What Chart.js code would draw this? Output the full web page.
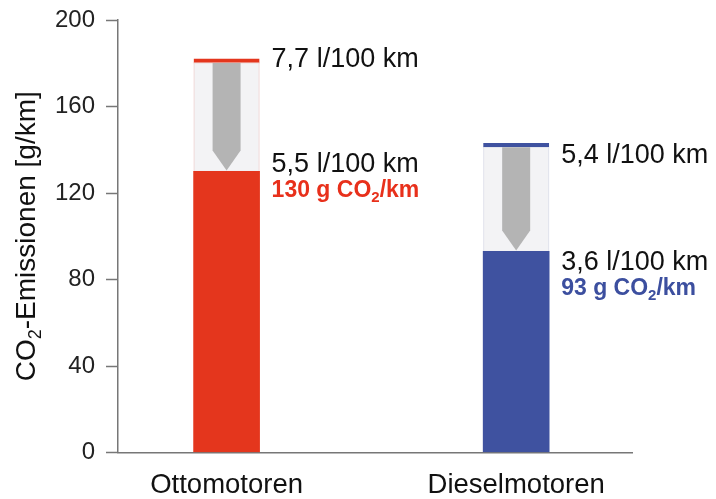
<!DOCTYPE html>
<html>
<head>
<meta charset="utf-8">
<script src="https://cdn.jsdelivr.net/npm/chart.js@4"></script>
<style>
  html, body { margin: 0; padding: 0; background: #ffffff; }
  #wrap { width: 716px; height: 499px; position: relative; }
</style>
</head>
<body>
<div id="wrap"><canvas id="c"></canvas></div>
<script>
// Engine types and their CO2 emissions (g/km)
const categories = ['Ottomotoren', 'Dieselmotoren'];
const co2Now = [130, 93];          // after consumption reduction
const co2Before = [182, 143];      // at the earlier consumption level
const consumptionBefore = ['7,7 l/100 km', '5,4 l/100 km'];
const consumptionNow = ['5,5 l/100 km', '3,6 l/100 km'];
const yTicks = [0, 40, 80, 120, 160, 200];

const barColors = ['#e4361d', '#3f52a0'];
const valueColors = ['#e8301b', '#3c4f9f'];
const FONT = 'Liberation Sans, Arial, Helvetica, sans-serif';

// baseline offsets (px) of the annotation rows below their reference level
const labelOffsets = {
  before: [8, 20],
  now: [1, 19],
  value: [26, 44]
};

function drawRich(ctx, parts, x, y, size, weight, color, align) {
  const sizes = parts.map(p => p.sub ? Math.round(size * 0.66) : size);
  const widths = parts.map((p, i) => {
    ctx.font = weight + ' ' + sizes[i] + 'px ' + FONT;
    return ctx.measureText(p.t).width;
  });
  const total = widths.reduce((a, b) => a + b, 0);
  let cx = align === 'center' ? x - total / 2 : x;
  ctx.fillStyle = color;
  ctx.textBaseline = 'alphabetic';
  ctx.textAlign = 'left';
  parts.forEach((p, i) => {
    ctx.font = weight + ' ' + sizes[i] + 'px ' + FONT;
    ctx.fillText(p.t, cx, y + (p.sub ? size * 0.22 : 0));
    cx += widths[i];
  });
}

const annotations = {
  id: 'annotations',
  afterDatasetsDraw(chart) {
    const ctx = chart.ctx;
    const xs = chart.scales.x, ys = chart.scales.y;
    const half = 33;
    categories.forEach((c, i) => {
      const cx = xs.getPixelForValue(i + 1);
      const yTop = ys.getPixelForValue(co2Before[i]);
      const yBar = ys.getPixelForValue(co2Now[i]);
      // faint outline of the saved range
      ctx.save();
      ctx.strokeStyle = i === 0 ? 'rgba(228,54,29,0.13)' : 'rgba(63,82,160,0.10)';
      ctx.lineWidth = 1;
      ctx.strokeRect(cx - half + 0.5, yTop + 4, 2 * half - 1, yBar - yTop - 4);
      // downward arrow
      const hw = 14, tip = 20;
      ctx.fillStyle = '#b4b4b4';
      ctx.beginPath();
      ctx.moveTo(cx - hw, yTop + 4);
      ctx.lineTo(cx + hw, yTop + 4);
      ctx.lineTo(cx + hw, yBar - 1 - tip);
      ctx.lineTo(cx, yBar - 1);
      ctx.lineTo(cx - hw, yBar - 1 - tip);
      ctx.closePath();
      ctx.fill();
      ctx.restore();
    });
  },
  afterDraw(chart) {
    const ctx = chart.ctx;
    const xs = chart.scales.x, ys = chart.scales.y;
    const area = chart.chartArea;
    ctx.save();
    categories.forEach((c, i) => {
      const tx = xs.getPixelForValue(i + 1) + 33 + 12;
      const yTop = ys.getPixelForValue(co2Before[i]);
      const yBar = ys.getPixelForValue(co2Now[i]);
      drawRich(ctx, [{ t: consumptionBefore[i] }], tx, yTop + labelOffsets.before[i], 27, 'normal', '#111111', 'left');
      drawRich(ctx, [{ t: consumptionNow[i] }], tx, yBar + labelOffsets.now[i], 27, 'normal', '#111111', 'left');
      drawRich(ctx, [{ t: co2Now[i] + ' g CO' }, { t: '2', sub: true }, { t: '/km' }],
        tx, yBar + labelOffsets.value[i], 23, 'bold', valueColors[i], 'left');
    });
    // y axis title
    ctx.translate(35, (area.top + area.bottom) / 2);
    ctx.rotate(-Math.PI / 2);
    drawRich(ctx, [{ t: 'CO' }, { t: '2', sub: true }, { t: '-Emissionen [g/km]' }], 0, 0, 28, 'normal', '#111111', 'center');
    ctx.restore();
  }
};

new Chart(document.getElementById('c'), {
  type: 'bar',
  data: {
    datasets: [
      {
        label: 'CO2 heute',
        data: categories.map((c, i) => ({ x: i + 1, y: co2Now[i] })),
        backgroundColor: barColors,
        borderWidth: 0,
        stack: 's'
      },
      {
        label: 'Einsparung',
        data: categories.map((c, i) => ({ x: i + 1, y: co2Before[i] - co2Now[i] })),
        backgroundColor: '#f3f3f5',
        borderColor: barColors,
        borderWidth: { top: 4, left: 0, right: 0, bottom: 0 },
        borderSkipped: false,
        stack: 's'
      }
    ]
  },
  options: {
    responsive: true,
    maintainAspectRatio: false,
    animation: false,
    barThickness: 66,
    layout: { padding: { top: 20, right: 84, left: 0, bottom: 0 } },
    plugins: {
      legend: { display: false },
      tooltip: { enabled: false }
    },
    scales: {
      x: {
        type: 'linear',
        offset: false,
        min: 0.625,
        max: 2.4,
        afterBuildTicks: s => { s.ticks = categories.map((c, i) => ({ value: i + 1 })); },
        afterFit: s => { s.height = 46.5; s.paddingLeft = 0; s.paddingRight = 0; },
        ticks: {
          callback: v => categories[v - 1] || '',
          font: { family: FONT, size: 27.5 },
          color: '#111111',
          padding: 16,
          maxRotation: 0,
          autoSkip: false
        },
        grid: { display: true, offset: false, drawOnChartArea: false, drawTicks: false },
        border: { display: true, color: '#777777', width: 1.5 }
      },
      y: {
        stacked: true,
        min: 0,
        max: 200,
        afterBuildTicks: s => { s.ticks = yTicks.map(v => ({ value: v })); },
        afterFit: s => { s.width = 118; s.paddingTop = 0; s.paddingBottom = 0; },
        ticks: {
          font: { family: FONT, size: 24 },
          color: '#222222',
          padding: 11
        },
        grid: { drawOnChartArea: false, drawTicks: true, tickLength: 12, tickColor: '#777777', tickWidth: 1.5 },
        border: { display: true, color: '#777777', width: 1.5 }
      }
    }
  },
  plugins: [annotations]
});
</script>
</body>
</html>
